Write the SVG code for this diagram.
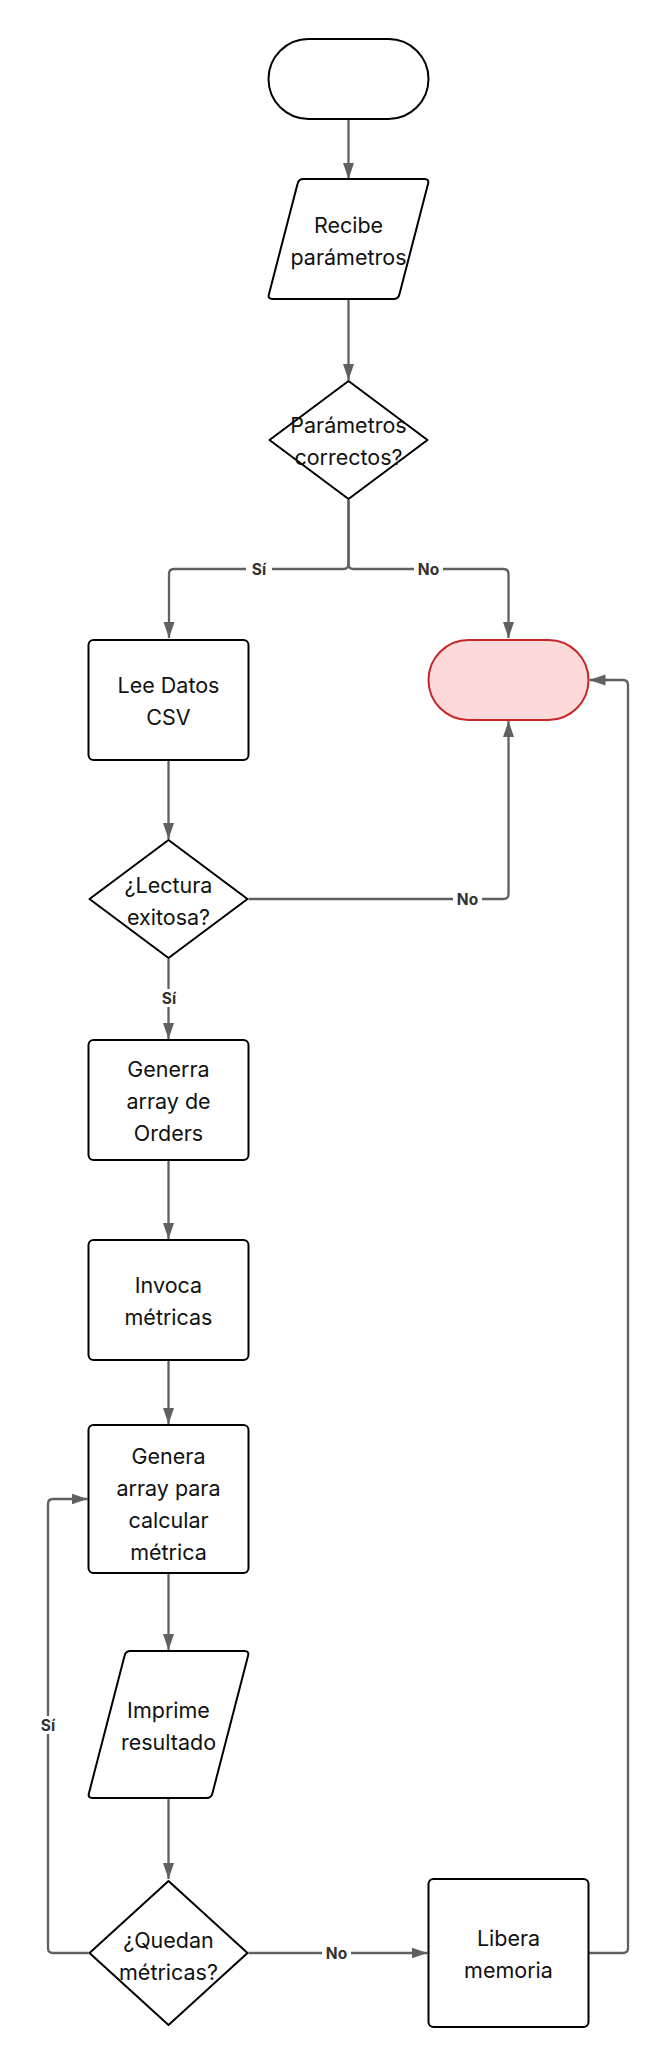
<svg xmlns="http://www.w3.org/2000/svg" width="670" height="2069" viewBox="0 0 670 2069">
<style>
.n{fill:#fff;stroke:#000;stroke-width:2;stroke-linejoin:round}
.end{fill:#fdd9da;stroke:#c8262b;stroke-width:2}
.t{font-family:Inter,"Liberation Sans",sans-serif;font-size:21.5px;fill:#111;text-anchor:middle}
.c{fill:none;stroke:#606060;stroke-width:2.3}
.lb{font-family:Inter,"Liberation Sans",sans-serif;font-size:15.5px;font-weight:700;fill:#333;text-anchor:middle}
.bg{fill:#fff}
</style>
<defs>
<marker id="a" viewBox="0 0 16 12" refX="16" refY="6" markerWidth="16" markerHeight="12" markerUnits="userSpaceOnUse" orient="auto">
<path d="M0,0.5 L16,6 L0,11.5 Z" fill="#606060"/>
</marker>
</defs>
<g id="connectors">
<path class="c" d="M348.5,119 V179" marker-end="url(#a)"/>
<path class="c" d="M348.5,299 V380" marker-end="url(#a)"/>
<path class="c" d="M348.5,500 V564 Q348.5,569 343.5,569 H174 Q169,569 169,574 V638" marker-end="url(#a)"/>
<path class="c" d="M348.5,500 V564 Q348.5,569 353.5,569 H503.5 Q508.5,569 508.5,574 V638" marker-end="url(#a)"/>
<path class="c" d="M168.5,760 V839" marker-end="url(#a)"/>
<path class="c" d="M248.5,899 H503.5 Q508.5,899 508.5,894 V721" marker-end="url(#a)"/>
<path class="c" d="M168.5,959 V1039" marker-end="url(#a)"/>
<path class="c" d="M168.5,1160 V1239" marker-end="url(#a)"/>
<path class="c" d="M168.5,1360 V1424" marker-end="url(#a)"/>
<path class="c" d="M168.5,1573 V1650" marker-end="url(#a)"/>
<path class="c" d="M168.5,1798 V1879" marker-end="url(#a)"/>
<path class="c" d="M248.5,1953 H427.5" marker-end="url(#a)"/>
<path class="c" d="M88.5,1953 H53 Q48,1953 48,1948 V1504 Q48,1499 53,1499 H87.5" marker-end="url(#a)"/>
<path class="c" d="M588.5,1953 H623 Q628,1953 628,1948 V685 Q628,680 623,680 H589.5" marker-end="url(#a)"/>
<g id="labels">
<rect class="bg" x="246" y="560" width="26" height="18"/><text class="lb" x="259" y="575">Sí</text>
<rect class="bg" x="414" y="560" width="29" height="18"/><text class="lb" x="428.5" y="575">No</text>
<rect class="bg" x="453" y="890" width="29" height="18"/><text class="lb" x="467.5" y="905">No</text>
<rect class="bg" x="156" y="989" width="26" height="18"/><text class="lb" x="169" y="1004">Sí</text>
<rect class="bg" x="35" y="1716" width="26" height="18"/><text class="lb" x="48" y="1731">Sí</text>
<rect class="bg" x="322" y="1944" width="29" height="18"/><text class="lb" x="336.5" y="1959">No</text>
</g>
</g>
<g id="start"><rect class="n" x="268.5" y="39" width="160" height="80" rx="40"/></g>
<g id="recibe"><path class="n" d="M303.5,179 H424.5 Q429.5,179 428,184 L399.5,294 Q398.5,299 393.5,299 H272.5 Q267.5,299 269,294 L297.5,184 Q298.5,179 303.5,179 Z"/>
<text class="t" x="348.5" y="233">Recibe</text><text class="t" x="348.5" y="265">parámetros</text></g>
<g id="check1"><path class="n" d="M348.5,381 L427.5,440 L348.5,499 L269.5,440 Z"/>
<text class="t" x="348.5" y="433">Parámetros</text><text class="t" x="348.5" y="465">correctos?</text></g>
<g id="lee"><rect class="n" x="88.5" y="640" width="160" height="120" rx="5"/>
<text class="t" x="168.5" y="693">Lee Datos</text><text class="t" x="168.5" y="725">CSV</text></g>
<g id="end"><rect class="end" x="428.5" y="640" width="160" height="80" rx="40"/></g>
<g id="check2"><path class="n" d="M168.5,840 L247.5,899 L168.5,958 L89.5,899 Z"/>
<text class="t" x="168.5" y="893">¿Lectura</text><text class="t" x="168.5" y="925">exitosa?</text></g>
<g id="generra"><rect class="n" x="88.5" y="1040" width="160" height="120" rx="5"/>
<text class="t" x="168.5" y="1077">Generra</text><text class="t" x="168.5" y="1109">array de</text><text class="t" x="168.5" y="1141">Orders</text></g>
<g id="invoca"><rect class="n" x="88.5" y="1240" width="160" height="120" rx="5"/>
<text class="t" x="168.5" y="1293">Invoca</text><text class="t" x="168.5" y="1325">métricas</text></g>
<g id="genera"><rect class="n" x="88.5" y="1425" width="160" height="148" rx="5"/>
<text class="t" x="168.5" y="1464">Genera</text><text class="t" x="168.5" y="1496">array para</text><text class="t" x="168.5" y="1528">calcular</text><text class="t" x="168.5" y="1560">métrica</text></g>
<g id="imprime"><path class="n" d="M130.5,1651 H244.5 Q249.5,1651 248,1656 L212.5,1793 Q211.5,1798 206.5,1798 H92.5 Q87.5,1798 89,1793 L124.5,1656 Q125.5,1651 130.5,1651 Z"/>
<text class="t" x="168.5" y="1718">Imprime</text><text class="t" x="168.5" y="1750">resultado</text></g>
<g id="check3"><path class="n" d="M168.5,1881 L247.5,1953 L168.5,2025 L89.5,1953 Z"/>
<text class="t" x="168.5" y="1948">¿Quedan</text><text class="t" x="168.5" y="1980">métricas?</text></g>
<g id="libera"><rect class="n" x="428.5" y="1879" width="160" height="148" rx="5"/>
<text class="t" x="508.5" y="1946">Libera</text><text class="t" x="508.5" y="1978">memoria</text></g>
</svg>
